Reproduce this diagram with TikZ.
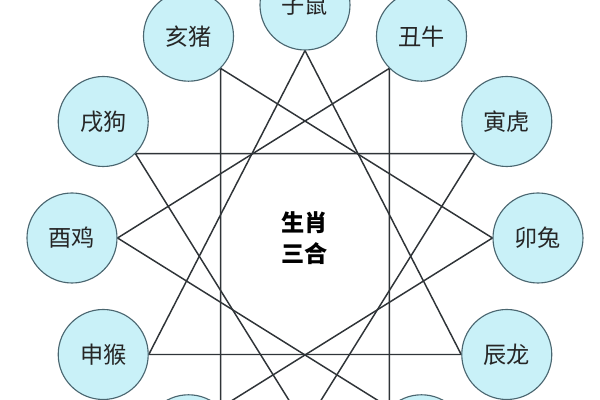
\documentclass[tikz,border=0pt]{standalone}
\usepackage{fontspec}
\newfontfamily\cjk{Noto Sans CJK SC}
\usepackage{tikz}
\usetikzlibrary{%
  backgrounds,
  calc,
  positioning
}
\definecolor{animalfill}{HTML}{C9F1F8}
\definecolor{animaldraw}{HTML}{4A6670}
\definecolor{trineline}{HTML}{2F3438}
\tikzset{%
  animal/.style={circle, draw=animaldraw, line width=0.8pt, fill=animalfill,
                 minimum size=2.25cm, inner sep=0pt, text=black!85,
                 font=\cjk\fontsize{16.5}{18}\selectfont},
  trine/.style={draw=trineline, line width=1.05pt}
}

\begin{document}
\begin{tikzpicture}
  \useasboundingbox (-7.625,-4.05) rectangle (7.375,5.95) ;
  \clip (-7.625,-4.05) rectangle (7.375,5.95) ;

  % centre
  \node [font=\cjk\bfseries\fontsize{16.5}{22}\selectfont, align=center]
        (hub) at ( 0.0, 0.0) {生肖\\三合} ;

  % the twelve animals on the ring
  \node [animal] (zi)   at (  90:5.825) {子鼠} ;
  \node [animal] (chou) at (  60:5.825) {丑牛} ;
  \node [animal] (yin)  at (  30:5.825) {寅虎} ;
  \node [animal] (mao)  at (   0:5.825) {卯兔} ;
  \node [animal] (chen) at ( -30:5.825) {辰龙} ;
  \node [animal] (si)   at ( -60:5.825) {} ;
  \coordinate    (wu)   at ( -90:4.700) ;
  \node [animal] (wei)  at (-120:5.825) {} ;
  \node [animal] (shen) at (-150:5.825) {申猴} ;
  \node [animal] (you)  at ( 180:5.825) {酉鸡} ;
  \node [animal] (xu)   at ( 150:5.825) {戌狗} ;
  \node [animal] (hai)  at ( 120:5.825) {亥猪} ;

  % four triangles
  \begin{scope}[on background layer]
    % shen - zi - chen
    \draw [trine] (shen.east) -- (zi.south) -- (chen.west) -- cycle ;
    % hai - mao - wei
    \draw [trine] (hai.south east) -- (mao.west) -- (wei.north east) -- cycle ;
    % yin - wu - xu
    \draw [trine] (yin.south west) -- (wu) -- (xu.south east) -- cycle ;
    % si - you - chou
    \draw [trine] (si.north west) -- (you.east) -- (chou.south west) -- cycle ;
  \end{scope}
\end{tikzpicture}
\end{document}
